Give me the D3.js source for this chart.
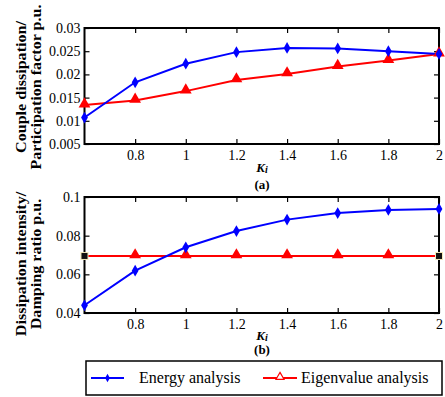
<!DOCTYPE html>
<html><head><meta charset="utf-8">
<script src="https://cdn.jsdelivr.net/npm/d3@7"></script>
<style>body{margin:0;background:#fff}svg text{font-family:"Liberation Serif","Times New Roman",serif !important}</style>
</head><body>
<svg id="c" width="445" height="397"></svg>
<script>
const kiValues = [0.6, 0.8, 1.0, 1.2, 1.4, 1.6, 1.8, 2.0];
const xTicks = [0.8, 1, 1.2, 1.4, 1.6, 1.8, 2];
const energyA = [0.0107, 0.0183, 0.0223, 0.0248, 0.0257, 0.0256, 0.0250, 0.0244];
const eigenA = [0.0134, 0.0144, 0.0164, 0.0188, 0.0201, 0.0217, 0.0230, 0.0244];
const yTicksA = [0.005, 0.01, 0.015, 0.02, 0.025, 0.03];
const energyB = [0.0440, 0.0619, 0.0740, 0.0824, 0.0883, 0.0917, 0.0933, 0.0938];
const eigenB = [0.0695, 0.0695, 0.0695, 0.0695, 0.0695, 0.0695, 0.0695, 0.0695];
const yTicksB = [0.04, 0.06, 0.08, 0.1];
const seriesNames = ["Energy analysis", "Eigenvalue analysis"];
const yLabelsA = ["Couple dissipation/", "Participation factor p.u."];
const yLabelsB = ["Dissipation intensity/", "Damping ratio p.u."];

const svg = d3.select("#c");
const BLUE = "#0000ff", RED = "#ff0000";
const diamond = d3.symbol().type(d3.symbolDiamond).size(40);
const tri = d3.symbol().type(d3.symbolTriangle).size(60);

function panel(top, bottom, yDomain, yTicks, energy, eigen, yLabels, tag, eigenEndsSquare, labelCy, kiOff, tagOff) {
  const x = d3.scaleLinear().domain([0.6, 2]).range([84.5, 439]);
  const y = d3.scaleLinear().domain(yDomain).range([bottom, top]);
  const g = svg.append("g");
  g.append("rect").attr("x", 84.5).attr("y", top).attr("width", 439 - 84.5).attr("height", bottom - top)
    .attr("fill", "none").attr("stroke", "#000").attr("stroke-width", 2);
  const ax = g.append("g").attr("transform", `translate(0,${bottom})`)
    .call(d3.axisBottom(x).tickValues(xTicks).tickSize(-5).tickPadding(6).tickFormat(d => d3.format("")(d)));
  const axT = g.append("g").attr("transform", `translate(0,${top})`)
    .call(d3.axisTop(x).tickValues(xTicks).tickSize(-5).tickFormat(""));
  const ay = g.append("g").attr("transform", `translate(84.5,0)`)
    .call(d3.axisLeft(y).tickValues(yTicks).tickSize(-5).tickPadding(4).tickFormat(d => d3.format("")(d)));
  const ayR = g.append("g").attr("transform", `translate(439,0)`)
    .call(d3.axisRight(y).tickValues(yTicks).tickSize(-5).tickFormat(""));
  [ax, axT, ay, ayR].forEach(a => {
    a.attr("font-family", null);
    a.select(".domain").remove();
    a.selectAll("line").attr("stroke", "#000").attr("stroke-width", 1.2);
    a.selectAll("text").attr("font-size", 14).attr("fill", "#000");
  });
  const line = d3.line().x((d, i) => x(kiValues[i])).y(d => y(d));
  g.append("path").datum(eigen).attr("d", line).attr("fill", "none").attr("stroke", RED).attr("stroke-width", 2);
  g.append("path").datum(energy).attr("d", line).attr("fill", "none").attr("stroke", BLUE).attr("stroke-width", 2);
  const eg = eigen.map((v, i) => [kiValues[i], v]);
  const triPts = eigenEndsSquare ? eg.slice(1, -1) : eg;
  g.selectAll(".tri").data(triPts).enter().append("path")
    .attr("d", tri).attr("fill", RED)
    .attr("transform", d => `translate(${x(d[0])},${y(d[1]) - 1})`);
  if (eigenEndsSquare) {
    [eg[0], eg[eg.length - 1]].forEach(d => {
      g.append("rect").attr("x", x(d[0]) - 3.5).attr("y", y(d[1]) - 3.5).attr("width", 7).attr("height", 7)
        .attr("fill", "#111").attr("stroke", "#f3e9b8").attr("stroke-width", 1);
    });
  }
  g.selectAll(".dia").data(energy.map((v, i) => [kiValues[i], v])).enter().append("path")
    .attr("d", diamond).attr("fill", BLUE)
    .attr("transform", d => `translate(${x(d[0])},${y(d[1])})`);
  yLabels.forEach((t, i) => {
    g.append("text").attr("transform", `translate(${26 + i * 15},${labelCy}) rotate(-90) scale(1.15,1)`)
      .attr("text-anchor", "middle").attr("font-weight", "bold").attr("font-size", 14).text(t);
  });
  g.append("text").attr("x", 262).attr("y", bottom + kiOff).attr("text-anchor", "middle")
    .attr("font-weight", "bold").attr("font-style", "italic").attr("font-size", 13)
    .html('K<tspan font-size="10" dy="1">i</tspan>');
  g.append("text").attr("x", 262).attr("y", bottom + tagOff).attr("text-anchor", "middle")
    .attr("font-weight", "bold").attr("font-size", 13).text(tag);
}

panel(28, 144, [0.005, 0.03], yTicksA, energyA, eigenA, yLabelsA, "(a)", false, 87, 28, 45);
panel(197, 313, [0.04, 0.1], yTicksB, energyB, eigenB, yLabelsB, "(b)", true, 264, 27, 41);

const lg = svg.append("g");
lg.append("rect").attr("x", 86).attr("y", 361).attr("width", 356).attr("height", 34)
  .attr("fill", "#fff").attr("stroke", "#000").attr("stroke-width", 1.5);
const ly = 378;
lg.append("line").attr("x1", 91).attr("x2", 124).attr("y1", ly).attr("y2", ly).attr("stroke", BLUE).attr("stroke-width", 2);
lg.append("path").attr("d", d3.symbol().type(d3.symbolDiamond).size(20)).attr("fill", BLUE).attr("transform", `translate(107.5,${ly})`);
lg.append("text").attr("x", 139).attr("y", ly + 5).attr("font-size", 16).text(seriesNames[0]);
lg.append("line").attr("x1", 263).attr("x2", 297).attr("y1", ly).attr("y2", ly).attr("stroke", RED).attr("stroke-width", 2);
lg.append("path").attr("d", d3.symbol().type(d3.symbolTriangle).size(28)).attr("fill", "#fff").attr("stroke", RED).attr("stroke-width", 1.2).attr("transform", `translate(280,${ly - 1})`);
lg.append("text").attr("x", 301).attr("y", ly + 5).attr("font-size", 16).text(seriesNames[1]);
</script>
</body></html>
